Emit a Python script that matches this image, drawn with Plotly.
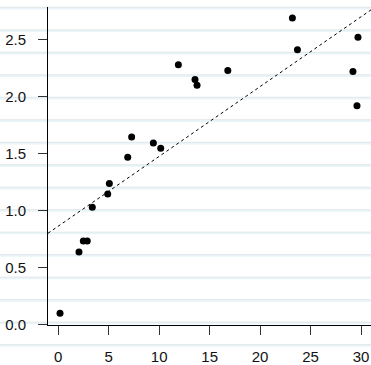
import numpy as np
import plotly.graph_objects as go

# data
x_vals = [0.17, 2.05, 2.48, 2.87, 3.37, 4.9, 5.06, 6.88, 7.27, 9.42, 10.15,
          11.9, 13.55, 13.75, 16.8, 23.2, 23.7, 29.7, 29.2, 29.6]
y_vals = [0.099, 0.638, 0.733, 0.733, 1.029, 1.147, 1.237, 1.468, 1.645, 1.593, 1.547,
          2.28, 2.15, 2.10, 2.23, 2.69, 2.41, 2.52, 2.22, 1.92]
fit_intercept = 0.864
fit_slope = 0.0612
x_ticks = [0, 5, 10, 15, 20, 25, 30]
y_ticks = [0.0, 0.5, 1.0, 1.5, 2.0, 2.5]
y_tick_text = ["0.0", "0.5", "1.0", "1.5", "2.0", "2.5"]

W, H = 371, 365
ml, mr, mt, mb = 48, 0, 7, 37
x_range = [-1.02, 30.99]
y_range = [-0.003, 2.786]

fit_x = np.array(x_range)
fit_y = fit_intercept + fit_slope * fit_x

fig = go.Figure()
fig.add_trace(go.Scatter(x=fit_x, y=fit_y, mode="lines",
                         line=dict(color="black", width=1, dash="3px,3px"),
                         hoverinfo="skip", showlegend=False))
fig.add_trace(go.Scatter(x=x_vals, y=y_vals, mode="markers",
                         marker=dict(color="black", size=7, line=dict(width=0)),
                         showlegend=False))

# lined-paper background stripes (decoration, in paper coordinates)
plot_h = H - mt - mb
plot_w = W - ml - mr
shapes = []
py = 7.3
while py < H + 5:
    yp = (H - mb - py) / plot_h
    yp2 = (H - mb - (py + 2.2)) / plot_h
    shapes.append(dict(type="rect", xref="paper", yref="paper",
                       x0=-ml / plot_w - 0.01, x1=1.01, y0=yp2, y1=yp,
                       fillcolor="rgb(233,245,248)", line=dict(width=0), layer="below"))
    shapes.append(dict(type="line", xref="paper", yref="paper",
                       x0=-ml / plot_w - 0.01, x1=1.01, y0=yp, y1=yp,
                       line=dict(color="rgb(226,231,233)", width=1), layer="below"))
    py += 22.7

fig.update_layout(
    width=W, height=H,
    margin=dict(l=ml, r=mr, t=mt, b=mb, pad=0),
    paper_bgcolor="white", plot_bgcolor="rgba(0,0,0,0)",
    font=dict(family="Liberation Sans, Arial, sans-serif", size=15, color="#111111"),
    shapes=shapes,
    xaxis=dict(range=x_range, tickvals=x_ticks, showgrid=False, zeroline=False,
               showline=True, linecolor="black", linewidth=1,
               ticks="outside", ticklen=9, tickcolor="#333", tickwidth=1,
               ticklabelstandoff=9),
    yaxis=dict(range=y_range, tickvals=y_ticks, ticktext=y_tick_text, showgrid=False,
               zeroline=False, showline=True, linecolor="black", linewidth=1,
               ticks="outside", ticklen=9, tickcolor="#333", tickwidth=1,
               ticklabelstandoff=9),
)
fig.write_html("out.html")
